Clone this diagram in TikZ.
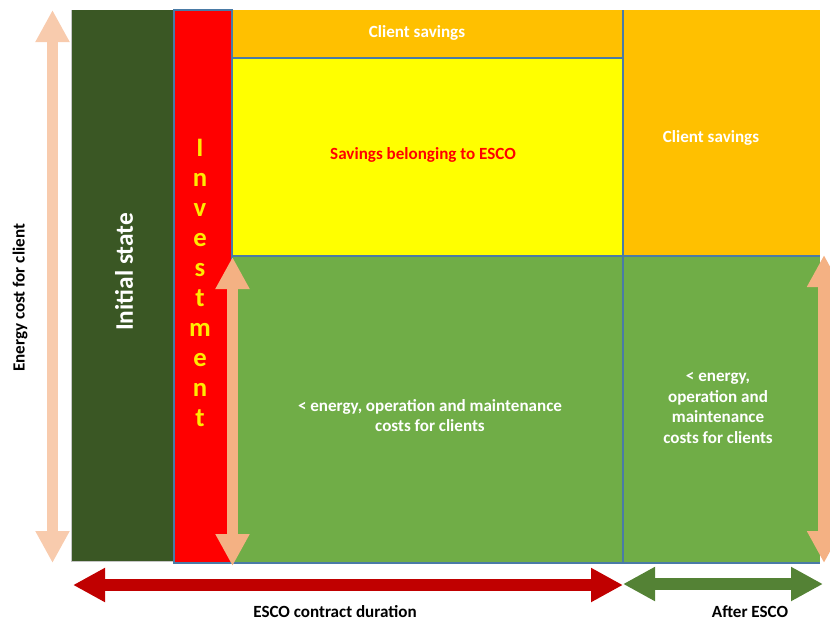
\documentclass[tikz,border=0pt]{standalone}
\usepackage{fontspec}
\setmainfont{Carlito}
\usetikzlibrary{arrows.meta}
\definecolor{darkgr}{HTML}{3A5724}
\definecolor{invred}{HTML}{FF0000}
\definecolor{orng}{HTML}{FFC000}
\definecolor{yel}{HTML}{FFFF00}
\definecolor{grn}{HTML}{70AD47}
\definecolor{bord}{HTML}{4A7BA6}
\definecolor{peachL}{HTML}{F8CBAD}
\definecolor{peachD}{HTML}{F4B183}
\definecolor{arrred}{HTML}{C00000}
\definecolor{arrgrn}{HTML}{548235}
\definecolor{invtxt}{HTML}{FFEB00}
\tikzset{
  borderline/.style={draw=bord, line width=1.2pt},
  blockarrow/.style={line width=8.5pt, {Triangle[width=24pt,length=24pt]}-{Triangle[width=24pt,length=24pt]}},
  lbl/.style={font=\bfseries\fontsize{12.8}{15}\selectfont, inner sep=0pt},
}
\begin{document}
\begin{tikzpicture}[x=0.75pt,y=-0.75pt]
\useasboundingbox (0,0) rectangle (830,621);
% areas
\fill[darkgr] (71,10) rectangle (174,561);
\draw[draw=gray!45, line width=0.6pt] (71,10) -- (71,561) -- (174,561);
\fill[invred] (174,10) rectangle (232,563);
\fill[orng] (232,10) rectangle (623,58);
\fill[yel] (232,58) rectangle (623,256);
\fill[orng] (623,10) rectangle (820,256);
\fill[grn] (232,256) rectangle (820,563);
% borders
\draw[borderline] (174,10) rectangle (232,563);
\draw[borderline] (232,58) -- (623,58);
\draw[borderline] (232,256) -- (820,256);
\draw[borderline] (623,10) -- (623,563);
\draw[borderline] (232,563) -- (820,563);
% texts
\node[lbl, white] (cs1) at (417,33) {Client savings};
\node[lbl, invred] (esco) at (423,155) {Savings belonging to ESCO};
\node[lbl, white] (cs2) at (711,138) {Client savings};
\node[lbl, white, align=center] (lc1) at (430,416) {< energy, operation and maintenance\\costs for clients};
\node[lbl, white, align=center, font=\bfseries\fontsize{12.8}{15.3}\selectfont] (lc2) at (718,408) {< energy,\\operation and\\maintenance\\costs for clients};
\node[lbl, black, rotate=90] (ylab) at (20,298) {Energy cost for client};
\node[lbl, white, rotate=90, font=\bfseries\fontsize{19}{22}\selectfont] (init) at (124,272) {Initial state};
\node[lbl, invtxt, align=center, font=\bfseries\fontsize{20}{22.5}\selectfont] (inv) at (200,283) {I\\n\\v\\e\\s\\t\\m\\e\\n\\t};
\node[lbl, black] (dur) at (335,612) {ESCO contract duration};
\node[lbl, black] (after) at (750,612) {After ESCO};
% arrow end points
\coordinate (lt) at (52.5,10);
\coordinate (lb) at (52.5,563);
\coordinate (it) at (232.5,257);
\coordinate (ib) at (232.5,566);
\coordinate (rt) at (824,255);
\coordinate (rb) at (824,563);
\coordinate (rl) at (73,585);
\coordinate (rr) at (623,585);
\coordinate (gl) at (623,584);
\coordinate (gr) at (823,584);
% arrows
\draw[blockarrow, peachL] (lt) -- (lb);
\draw[blockarrow, peachD] (it) -- (ib);
\draw[blockarrow, peachD] (rt) -- (rb);
\draw[blockarrow, arrred] (rl) -- (rr);
\draw[blockarrow, arrgrn] (gl) -- (gr);
\end{tikzpicture}
\end{document}
